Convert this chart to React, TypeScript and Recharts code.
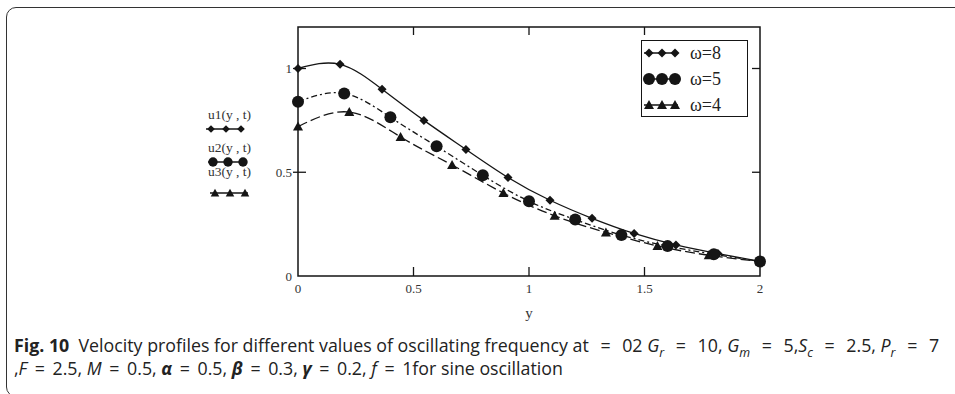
import { LineChart, Line, XAxis, YAxis, Legend, ReferenceArea, ReferenceLine } from 'recharts';

// Tick values
const xTicks = [0, 0.5, 1, 1.5, 2];
const yTicks = [0, 0.5, 1];
const innerXTicks = [0.5, 1, 1.5];
const innerYTicks = [0.5, 1];

// u1 : omega = 8 (diamonds, solid)
const u1X = [0, 0.182, 0.364, 0.545, 0.727, 0.909, 1.091, 1.273, 1.455, 1.636, 1.818, 2.0];
const u1Y = [1.0, 1.02, 0.9, 0.75, 0.61, 0.475, 0.365, 0.278, 0.205, 0.15, 0.108, 0.07];

// u2 : omega = 5 (circles, dash-dot)
const u2X = [0, 0.2, 0.4, 0.6, 0.8, 1.0, 1.2, 1.4, 1.6, 1.8, 2.0];
const u2Y = [0.84, 0.88, 0.765, 0.625, 0.485, 0.36, 0.272, 0.197, 0.144, 0.105, 0.07];

// u3 : omega = 4 (triangles, dashed)
const u3X = [0, 0.222, 0.444, 0.667, 0.889, 1.111, 1.333, 1.556, 1.778, 2.0];
const u3Y = [0.72, 0.79, 0.67, 0.535, 0.4, 0.29, 0.21, 0.145, 0.1, 0.07];

const axisNames = ['u1(y , t)', 'u2(y , t)', 'u3(y , t)'];
const legendNames = ['\u03c9=8', '\u03c9=5', '\u03c9=4'];

const toPoints = (xs: number[], ys: number[]) => xs.map((x, i) => ({ x, u: ys[i] }));

type Shape = 'diamond' | 'circle' | 'triangle';

const series: { id: string; data: { x: number; u: number }[]; shape: Shape; dash?: string }[] = [
  { id: 'u1', data: toPoints(u1X, u1Y), shape: 'diamond' },
  { id: 'u2', data: toPoints(u2X, u2Y), shape: 'circle', dash: '6 3 2 3' },
  { id: 'u3', data: toPoints(u3X, u3Y), shape: 'triangle', dash: '10 4' },
];

const INK = '#151515';
const serif = '"Liberation Serif", "DejaVu Serif", serif';

const Marker = ({ shape, cx, cy, s = 1 }: { shape: Shape; cx: number; cy: number; s?: number }) => {
  if (shape === 'diamond')
    return (
      <path
        d={`M${cx},${cy - 4.5 * s}L${cx + 4.5 * s},${cy}L${cx},${cy + 4.5 * s}L${cx - 4.5 * s},${cy}Z`}
        fill={INK}
      />
    );
  if (shape === 'circle') return <circle cx={cx} cy={cy} r={6 * s} fill={INK} />;
  return <path d={`M${cx},${cy - 5 * s}L${cx + 5 * s},${cy + 4 * s}L${cx - 5 * s},${cy + 4 * s}Z`} fill={INK} />;
};

// three markers joined by a line, as in the Mathcad trace samples
const Sample = ({ shape, x, y, gap, s = 1 }: { shape: Shape; x: number; y: number; gap: number; s?: number }) => (
  <g>
    <line x1={x - 3} x2={x + gap * 2 + 5} y1={y} y2={y} stroke={INK} strokeWidth={1.3} />
    {[0, 1, 2].map((i) => (
      <Marker key={i} shape={shape} cx={x + i * gap + 2} cy={y} s={s} />
    ))}
  </g>
);

// Mathcad trace names stacked left of the y axis
const SideLabels = () => {
  const rows = [
    { ty: 119, my: 129 },
    { ty: 152, my: 162 },
    { ty: 176, my: 193 },
  ];
  return (
    <svg width={300} height={300} style={{ position: 'absolute', left: 0, top: 0, pointerEvents: 'none' }}>
      {rows.map((r, i) => (
        <g key={i}>
          <text x={208} y={r.ty} fontFamily={serif} fontSize={13.5} fill="#333">
            {axisNames[i]}
          </text>
          <Sample shape={series[i].shape} x={209 + i * 2} y={r.my} gap={15} s={i === 1 ? 0.78 : 0.85} />
        </g>
      ))}
    </svg>
  );
};

// inward tick marks on both sides of the frame
const vTick = (p: any) => {
  const top = Math.min(p.y1, p.y2);
  const bot = Math.max(p.y1, p.y2);
  return (
    <g>
      <line x1={p.x1} x2={p.x1} y1={top} y2={top + 8} stroke={INK} strokeWidth={1.3} />
      <line x1={p.x1} x2={p.x1} y1={bot} y2={bot - 9} stroke={INK} strokeWidth={1.3} />
    </g>
  );
};

const hTick = (p: any) => {
  const l = Math.min(p.x1, p.x2);
  const r = Math.max(p.x1, p.x2);
  return (
    <g>
      <line x1={l - 5} x2={l + 8} y1={p.y1} y2={p.y1} stroke={INK} strokeWidth={1.3} />
      <line x1={r} x2={r - 8} y1={p.y1} y2={p.y1} stroke={INK} strokeWidth={1.3} />
    </g>
  );
};

const renderXLabel = (props: any) => {
  const vb = props.viewBox || {};
  return (
    <text x={vb.x + vb.width / 2} y={vb.y + 42} textAnchor="middle" fontFamily={serif} fontSize={15} fill="#333">
      y
    </text>
  );
};

const LegendBox = () => (
  <div
    style={{
      width: 107,
      height: 77,
      border: `1.5px solid ${INK}`,
      boxSizing: 'border-box',
      background: '#fff',
      position: 'relative',
    }}
  >
    <svg width={104} height={74} style={{ position: 'absolute', left: 0, top: 0 }}>
      {legendNames.map((name, i) => (
        <g key={name}>
          <Sample shape={series[i].shape} x={5} y={12 + i * 26} gap={13} />
          <text x={48} y={18 + i * 26} fontFamily={serif} fontSize={18} fill="#222">
            {name}
          </text>
        </g>
      ))}
    </svg>
  </div>
);

const tickStyle = { fontFamily: serif, fontSize: 13, fill: '#333' };

const Eq = ({ m = 5 }: { m?: number }) => <span style={{ margin: `0 ${m}px` }}>=</span>;
const Sub = ({ t }: { t: string }) => (
  <sub style={{ fontSize: '0.7em', lineHeight: 0 }}>
    <i>{t}</i>
  </sub>
);

const Caption = () => (
  <div
    style={{
      position: 'absolute',
      left: 14,
      top: 334,
      fontFamily: '"Open Sans", Lato, sans-serif',
      fontSize: 17.8,
      lineHeight: '23px',
      color: '#222',
      whiteSpace: 'nowrap',
    }}
  >
    <div>
      <b>Fig. 10</b>&nbsp; Velocity profiles for different values of oscillating frequency at <Eq m={7} /> 02{' '}
      <i>G</i>
      <Sub t="r" /> <Eq m={7} /> 10, <i>G</i>
      <Sub t="m" /> <Eq m={7} /> 5,<i>S</i>
      <Sub t="c" /> <Eq m={7} /> 2.5, <i>P</i>
      <Sub t="r" /> <Eq m={7} /> 7
    </div>
    <div>
      ,<i>F</i> <Eq m={3} /> 2.5, <i>M</i> <Eq m={3} /> 0.5, <b><i>{'\u03b1'}</i></b> <Eq m={3} /> 0.5,{' '}
      <b><i>{'\u03b2'}</i></b> <Eq m={3} /> 0.3, <b><i>{'\u03b3'}</i></b> <Eq m={3} /> 0.2, <i>f</i>{' '}
      <Eq m={3} /> 1for sine oscillation
    </div>
  </div>
);

export default function App() {
  return (
    <div
      style={{
        position: 'absolute',
        left: 0,
        top: 0,
        width: 955,
        height: 394,
        overflow: 'hidden',
        background: '#fff',
      }}
    >
      <div
        style={{
          position: 'absolute',
          left: 6,
          top: 7,
          width: 1100,
          height: 390,
          border: '1.5px solid #333',
          borderRadius: 10,
          boxSizing: 'border-box',
        }}
      />
      <div style={{ position: 'absolute', left: 0, top: 0 }}>
        <LineChart width={955} height={330} margin={{ top: 27, right: 195, bottom: 9, left: 258 }}>
          <XAxis
            xAxisId="b"
            dataKey="x"
            type="number"
            domain={[0, 2]}
            ticks={xTicks}
            tickFormatter={(v: number) => String(v)}
            height={45}
            axisLine={false}
            tickLine={false}
            tickSize={0}
            tickMargin={8}
            tick={tickStyle}
            label={{ content: renderXLabel }}
          />
          <YAxis
            yAxisId="l"
            type="number"
            domain={[0, 1.2]}
            ticks={yTicks}
            width={40}
            axisLine={false}
            tickLine={false}
            tickSize={0}
            tickMargin={6}
            tick={tickStyle}
          />
          <ReferenceArea
            xAxisId="b"
            yAxisId="l"
            x1={0}
            x2={2}
            y1={0}
            y2={1.2}
            fill="none"
            fillOpacity={0}
            stroke={INK}
            strokeWidth={1.5}
            strokeOpacity={1}
            ifOverflow="visible"
          />
          {innerXTicks.map((t) => (
            <ReferenceLine key={`x${t}`} xAxisId="b" yAxisId="l" x={t} stroke={INK} shape={vTick} />
          ))}
          {innerYTicks.map((t) => (
            <ReferenceLine key={`y${t}`} xAxisId="b" yAxisId="l" y={t} stroke={INK} shape={hTick} />
          ))}
          <Legend
            layout="horizontal"
            align="center"
            verticalAlign="middle"
            content={() => <LegendBox />}
            wrapperStyle={{ position: 'absolute', left: 641, top: 40, width: 107, height: 77 }}
          />
          {series.map((s) => (
            <Line
              key={s.id}
              xAxisId="b"
              yAxisId="l"
              data={s.data}
              dataKey="u"
              type="natural"
              stroke={INK}
              strokeWidth={1.3}
              strokeDasharray={s.dash}
              isAnimationActive={false}
              dot={(p: any) => <Marker key={`${s.id}-${p.index}`} shape={s.shape} cx={p.cx} cy={p.cy} />}
              activeDot={false}
            />
          ))}
        </LineChart>
      </div>
      <SideLabels />
      <Caption />
    </div>
  );
}
